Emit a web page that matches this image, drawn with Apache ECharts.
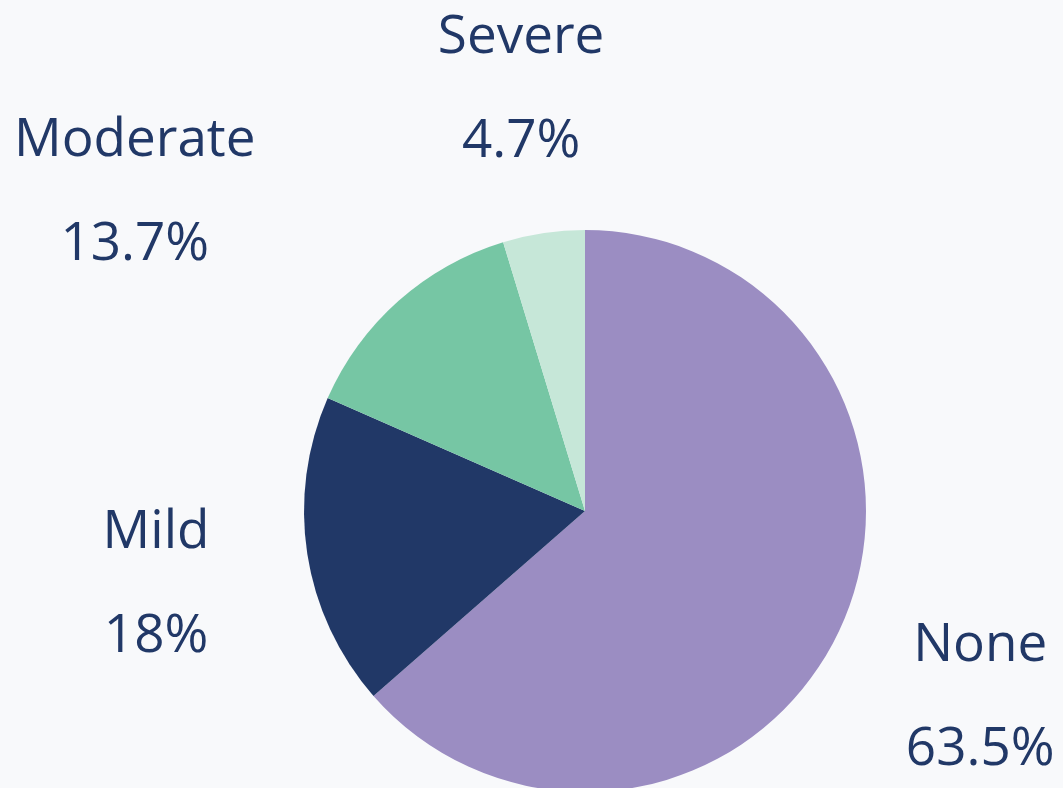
<!DOCTYPE html>
<html>
<head>
<meta charset="utf-8">
<script src="https://cdn.jsdelivr.net/npm/echarts@6/dist/echarts.min.js"></script>
<style>
  html, body { margin: 0; padding: 0; background: #f8f9fb; }
  #chart { width: 1063px; height: 788px; }
</style>
</head>
<body>
<div id="chart"></div>
<script>
// severity shares, clockwise from 12 o'clock
const categories = ['None', 'Mild', 'Moderate', 'Severe']
const shares = [63.5, 18, 13.7, 4.7]
const colors = ['#9b8dc2', '#213867', '#76c6a4', '#c6e7d8']

const textColor = '#213867'
const center = [585, 511]

let chart = echarts.init(document.getElementById('chart'))

let pieData = categories.map((name, i) => ({
  name: name,
  value: shares[i],
  itemStyle: { color: colors[i] }
}))

let option = {
  backgroundColor: '#f8f9fb',
  animation: false,
  series: [
    {
      // the visible pie
      type: 'pie',
      center: center,
      radius: [0, 281],
      startAngle: 90,
      clockwise: true,
      silent: true,
      itemStyle: { borderWidth: 0 },
      label: { show: false },
      labelLine: { show: false },
      data: pieData
    },
    {
      // invisible ring that only carries the centred labels outside the pie
      type: 'pie',
      center: center,
      radius: [281, 581],
      startAngle: 90,
      clockwise: true,
      silent: true,
      itemStyle: { color: 'rgba(0,0,0,0)', borderWidth: 0 },
      label: {
        show: true,
        position: 'inside',
        formatter: '{n|{b}}\n{v|{c}%}',
        rich: {
          n: { fontFamily: 'Open Sans', fontSize: 53, color: textColor, lineHeight: 104, align: 'center' },
          v: { fontFamily: 'Open Sans', fontSize: 53, color: textColor, lineHeight: 104, align: 'center' }
        }
      },
      labelLine: { show: false },
      labelLayout: function (p) {
        // Moderate label sits further left so it clears the Severe one
        if (categories[p.dataIndex] === 'Moderate') {
          return { dx: -162, dy: 6 }
        }
        return { dy: 8 }
      },
      data: categories.map((name, i) => ({ name: name, value: shares[i] }))
    }
  ]
}

chart.setOption(option)
</script>
</body>
</html>
